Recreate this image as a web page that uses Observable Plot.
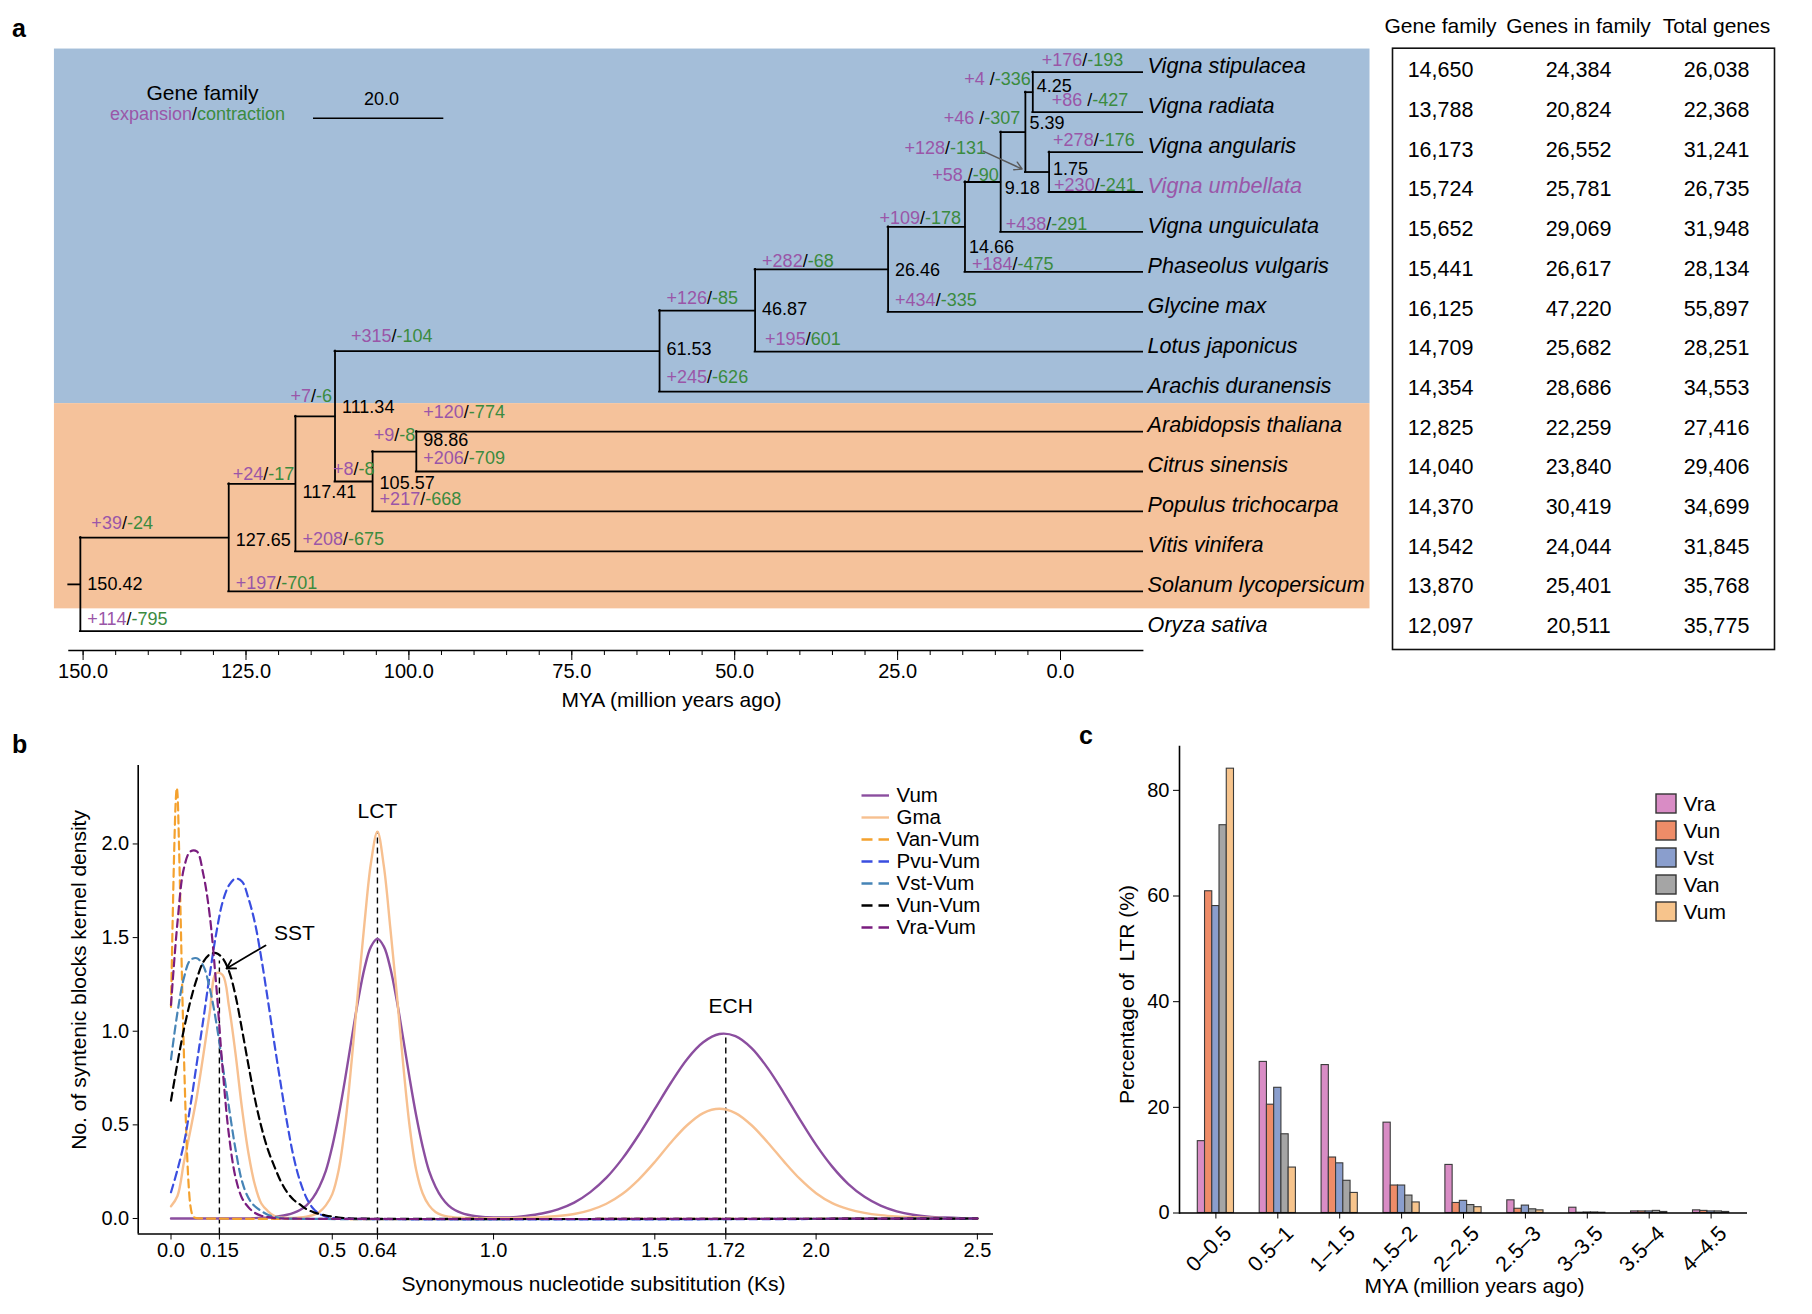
<!DOCTYPE html>
<html><head><meta charset="utf-8">
<script src="https://cdn.jsdelivr.net/npm/d3@7"></script>
<script src="https://cdn.jsdelivr.net/npm/@observablehq/plot@0.6"></script>
<style>
body{margin:0;background:#fff;}
#fig{position:relative;width:1812px;height:1314px;overflow:hidden;font-family:"Liberation Sans",Arial,sans-serif;color:#000;}
.plab{position:absolute;font-weight:bold;font-size:25px;line-height:25px;}
</style></head>
<body><div id="fig"></div>
<script>
// ================= DATA =================
// Panel a: species (top to bottom)
const tips = ["Vigna stipulacea","Vigna radiata","Vigna angularis","Vigna umbellata","Vigna unguiculata","Phaseolus vulgaris","Glycine max","Lotus japonicus","Arachis duranensis","Arabidopsis thaliana","Citrus sinensis","Populus trichocarpa","Vitis vinifera","Solanum lycopersicum","Oryza sativa"];
// internal nodes (divergence time, MYA) and their children
const nodeAges = [150.42,127.65,117.41,111.34,105.57,98.86,61.53,46.87,26.46,14.66,9.18,5.39,4.25,1.75];
const nodeChildren = [
  [127.65,"Oryza sativa"],
  [117.41,"Solanum lycopersicum"],
  [111.34,"Vitis vinifera"],
  [61.53,105.57],
  [98.86,"Populus trichocarpa"],
  ["Arabidopsis thaliana","Citrus sinensis"],
  [46.87,"Arachis duranensis"],
  [26.46,"Lotus japonicus"],
  [14.66,"Glycine max"],
  [9.18,"Phaseolus vulgaris"],
  [5.39,"Vigna unguiculata"],
  [4.25,1.75],
  ["Vigna stipulacea","Vigna radiata"],
  ["Vigna angularis","Vigna umbellata"]
];
// gene family expansion / contraction per branch (branch named by its child)
const branchKeys = ["Vigna stipulacea","Vigna radiata",4.25,5.39,"Vigna angularis","Vigna umbellata",1.75,9.18,"Vigna unguiculata",14.66,"Phaseolus vulgaris",26.46,"Glycine max",46.87,"Lotus japonicus",61.53,"Arachis duranensis",111.34,"Arabidopsis thaliana",98.86,"Citrus sinensis",105.57,"Populus trichocarpa",117.41,"Vitis vinifera",127.65,"Solanum lycopersicum","Oryza sativa"];
const branchGain = ["+176","+86 ","+4 ","+46 ","+278","+230","+128","+58 ","+438","+109","+184","+282","+434","+126","+195","+315","+245","+7","+120","+9","+206","+8","+217","+24","+208","+39","+197","+114"];
const branchLoss = ["-193","-427","-336","-307","-176","-241","-131","-90","-291","-178","-475","-68","-335","-85","601","-104","-626","-6","-774","-8","-709","-8","-668","-17","-675","-24","-701","-795"];
const scaleBarMYA = 20;
const mainTicks = [150,125,100,75,50,25,0];
const minorTicks = [150,145,140,135,130,125,120,115,110,105,100,95,90,85,80,75,70,65,60,55,50,45,40,35,30,25,20,15,10,5,0];
// table
const tableColumns = ["Gene family","Genes in family","Total genes"];
const geneFamily = [14650,13788,16173,15724,15652,15441,16125,14709,14354,12825,14040,14370,14542,13870,12097];
const genesInFamily = [24384,20824,26552,25781,29069,26617,47220,25682,28686,22259,23840,30419,24044,25401,20511];
const totalGenes = [26038,22368,31241,26735,31948,28134,55897,28251,34553,27416,29406,34699,31845,35768,35775];

// Panel b: Ks kernel densities
const ksTicks = [0,0.15,0.5,0.64,1,1.5,1.72,2,2.5];
const ksTickLabels = ["0.0","0.15","0.5","0.64","1.0","1.5","1.72","2.0","2.5"];
const densTicks = [0,0.5,1,1.5,2];
const vumDensity = [0,0,0,0,0,0,0,0,0,0,0,0,0,0.002,0.004,0.006,0.01,0.013,0.02,0.03,0.045,0.07,0.11,0.17,0.254,0.385,0.551,0.747,0.959,1.164,1.337,1.452,1.493,1.452,1.337,1.164,0.959,0.747,0.551,0.385,0.254,0.17,0.11,0.07,0.045,0.03,0.02,0.013,0.01,0.007,0.006,
  0.006,0.0136,0.0265,0.049,0.085,0.141,0.218,0.321,0.446,0.585,0.725,0.851,0.941,0.985,0.974,0.91,0.803,0.67,0.528,0.393,0.277,0.184,0.116,0.069,0.0385,0.02,0.01,0.005,0.002,0.001];
const gmaDensity = [0.065,0.12,0.30,0.47,0.65,0.87,1.10,1.31,1.30,1.13,0.88,0.59,0.35,0.18,0.08,0.04,0.014,
  0.006,0.003,0.003,0.005,0.01,0.018,0.035,0.07,0.13,0.26,0.50,0.84,1.22,1.58,1.90,2.066,1.88,1.55,1.20,0.82,0.49,0.26,0.135,0.07,0.035,0.018,0.01,0.006,0.004,0.003,0.002,0.001,0.001,0.001,
  0.002,0.004,0.007,0.013,0.024,0.045,0.079,0.132,0.208,0.302,0.406,0.498,0.563,0.586,0.563,0.498,0.406,0.305,0.211,0.135,0.082,0.05,0.03,0.018,0.011,0.007,0.004,0.002,0.001,0];
const vanKs = [0,0.005,0.01,0.015,0.018,0.02,0.025,0.03,0.035,0.04,0.045,0.05,0.055,0.06,0.065,0.07,0.08,0.1,2.5];
const vanDensity = [1.13,1.58,1.97,2.24,2.30,2.27,1.98,1.60,1.21,0.88,0.58,0.34,0.17,0.07,0.025,0.008,0.002,0,0];
const pvuDensity = [0.14,0.26,0.40,0.60,0.83,1.06,1.30,1.52,1.69,1.78,1.815,1.80,1.71,1.58,1.39,1.17,0.94,0.72,0.51,0.33,0.20,0.11,0.055,0.025,0.01,0.004,0];
const vstDensity = [0.85,1.10,1.285,1.38,1.39,1.35,1.23,1.05,0.82,0.59,0.37,0.20,0.11,0.065,0.04,0.02,0.01,0.003,0];
const vunDensity = [0.63,0.83,1.01,1.16,1.28,1.37,1.41,1.417,1.39,1.32,1.19,1.01,0.82,0.64,0.49,0.37,0.28,0.20,0.14,0.10,0.075,0.05,0.035,0.024,0.016,0.01,0.005,0.002,0];
const vraDensity = [1.14,1.58,1.87,1.96,1.96,1.84,1.62,1.25,0.80,0.44,0.22,0.11,0.06,0.03,0.015,0.007,0.002,0];
const peakKs = [0.15,0.64,1.72];
const peakTop = [1.375,2.066,0.988];
const peakNames = ["SST","LCT","ECH"];

// Panel c: LTR insertion time
const ltrBins = ["0–0.5","0.5–1","1–1.5","1.5–2","2–2.5","2.5–3","3–3.5","3.5–4","4–4.5"];
const ltrSeries = ["Vra","Vun","Vst","Van","Vum"];
const ltrVra = [13.6,28.6,28.0,17.1,9.1,2.4,1.0,0.3,0.5];
const ltrVun = [60.9,20.5,10.5,5.2,1.9,0.8,0.05,0.3,0.4];
const ltrVst = [58.1,23.7,9.4,5.2,2.3,1.4,0.1,0.3,0.3];
const ltrVan = [73.4,14.9,6.1,3.3,1.5,0.7,0.1,0.4,0.3];
const ltrVum = [84.1,8.6,3.8,2.0,1.1,0.5,0.05,0.2,0.2];
const ltrTicks = [0,20,40,60,80];

// ================= STYLE / LAYOUT =================
const FONT = '"Liberation Sans", Arial, sans-serif';
const PURPLE = "#9a56a8", GREEN = "#3b8b3f";
const BLUE_BG = "#a4bed9", ORANGE_BG = "#f5c29b";
const fig = document.getElementById("fig");
const ctx = document.createElement("canvas").getContext("2d");
function textWidth(s, size){ ctx.font = `${size}px "Liberation Sans"`; return ctx.measureText(s).width; }
function place(node, left, top){
  const d = document.createElement("div");
  d.style.position = "absolute"; d.style.left = left + "px"; d.style.top = top + "px";
  node.style.maxWidth = "none"; node.style.overflow = "visible";
  d.appendChild(node); fig.appendChild(d);
}
function label(txt, left, top){
  const d = document.createElement("div"); d.className = "plab"; d.textContent = txt;
  d.style.left = left + "px"; d.style.top = top + "px"; fig.appendChild(d);
}
function ann(dims, str, px, py, o = {}){
  return Plot.text([str], {text: d => d, frameAnchor: "top-left", dx: px - dims.ML, dy: py - dims.MT,
    textAnchor: "middle", lineAnchor: "middle", fontSize: 21, ...o});
}
const baseStyle = {fontFamily: FONT, fontSize: "18px", background: "transparent", color: "#000", overflow: "visible"};

// ================= PANEL a: tree =================
const A = {W: 1390, H: 720, ML: 82.6, MR: 330, MT: 71.7, MB: 70};
const ROW_MAX = 14.483;
const TIP_END = -12.6, AXIS_EXT = [152.2, -12.8], BG_EXT = [154.4, -47.5];
const xA = d3.scaleLinear([150, 0], [A.ML, A.W - A.MR]);
const yA = d3.scaleLinear([0, ROW_MAX], [A.MT, A.H - A.MB]);

const parentOf = new Map();
nodeAges.forEach((a, i) => nodeChildren[i].forEach(c => parentOf.set(c, a)));
const rootAge = nodeAges.find(a => !parentOf.has(a));
const nodeIdx = new Map(nodeAges.map((a, i) => [a, i]));
function rowOf(k){
  if (typeof k === "string") return tips.indexOf(k);
  const r = nodeChildren[nodeIdx.get(k)].map(rowOf);
  return (Math.min(...r) + Math.max(...r)) / 2;
}
const ageOf = k => typeof k === "string" ? TIP_END : k;
const hSegs = [...parentOf].map(([c, p]) => ({t1: p, t2: ageOf(c), row: rowOf(c)}));
hSegs.push({t1: AXIS_EXT[0], t2: rootAge, row: rowOf(rootAge)});
const vSegs = nodeAges.map((a, i) => { const r = nodeChildren[i].map(rowOf); return {t: a, r1: Math.min(...r), r2: Math.max(...r)}; });

const bands = [
  {color: BLUE_BG, r1: tips.indexOf("Vigna stipulacea") - 0.58, r2: tips.indexOf("Arachis duranensis") + 0.3},
  {color: ORANGE_BG, r1: tips.indexOf("Arachis duranensis") + 0.3, r2: tips.indexOf("Solanum lycopersicum") + 0.44}
];

// expansion/contraction labels (placement style)
const LBL = 18;
const labelPlace = {
  "Vigna stipulacea": {off: 9}, "Vigna radiata": {off: 19},
  "4.25": {anchor: "end", off: -2, dy: -13}, "5.39": {anchor: "end", off: -5, dy: -14},
  "1.75": {anchor: "end", off: -63, dy: -24, arrow: true},
  "9.18": {anchor: "end", off: -2, dy: -7}, "14.66": {anchor: "end", off: -4, dy: -9},
  "111.34": {anchor: "end", off: -3, dy: -20}, "98.86": {anchor: "end", off: -1, dy: -16},
  "105.57": {anchor: "end", off: 2, dy: -12},
  "Vigna angularis": {off: 4}, "Vigna umbellata": {off: 5, dy: -7}, "Vigna unguiculata": {off: 5, dy: -8},
  "Phaseolus vulgaris": {dy: -8}, "26.46": {dy: -8},
  "Glycine max": {off: 7}, "Lotus japonicus": {off: 10}, "61.53": {off: 16, dy: -15},
  "Arachis duranensis": {dy: -14}, "Arabidopsis thaliana": {dy: -19}, "Citrus sinensis": {dy: -13},
  "127.65": {off: 11, dy: -14}, "117.41": {off: 4, dy: -10}, "Solanum lycopersicum": {dy: -8}
};
const glParts = [], glArrows = [];
branchKeys.forEach((k, j) => {
  const p = Object.assign({anchor: "start", off: 7, dy: -12}, labelPlace[String(k)]);
  const pX = xA(parentOf.get(k)), cX = xA(ageOf(k)), yPx = yA(rowOf(k)) + p.dy;
  const parts = [[branchGain[j], PURPLE], ["/", "#000"], [branchLoss[j], GREEN]];
  const w = parts.map(([s]) => textWidth(s, LBL));
  const total = d3.sum(w);
  let s = p.anchor === "start" ? pX + p.off : cX + p.off - total;
  const endPx = s + total;
  parts.forEach(([txt, col], m) => { glParts.push({t: xA.invert(s), row: yA.invert(yPx), text: txt, color: col}); s += w[m]; });
  if (p.arrow) glArrows.push({t1: xA.invert(endPx - 3), r1: yA.invert(yPx + 3), t2: xA.invert(xA(k) - 27), r2: yA.invert(yA(rowOf(k)) - 3)});
});

// node age labels (vertical nudges in px)
const nodeDy = {"127.65": 3, "117.41": 8, "111.34": -9, "105.57": 2, "98.86": -11, "61.53": -2, "46.87": -1, "26.46": 1, "14.66": 20, "9.18": 6, "5.39": -9, "4.25": -6, "1.75": -3};
const nodeLabels = nodeAges.map(a => ({
  t: xA.invert(xA(a) + (a < 15 ? 4 : 7)),
  row: yA.invert(yA(rowOf(a)) + (nodeDy[a.toFixed(2)] || 0)),
  text: a.toFixed(2)
}));

// legend "expansion/contraction"
const legParts = [["expansion", PURPLE], ["/", "#000"], ["contraction", GREEN]];
const legW = legParts.map(([s]) => textWidth(s, LBL));
let legX = 197 - d3.sum(legW) / 2;
const legMarks = legParts.map(([s, c], m) => { const mk = ann(A, s, legX, 114, {textAnchor: "start", fill: c, fontSize: LBL}); legX += legW[m]; return mk; });
const barStart = xA.invert(313);

const treePlot = Plot.plot({
  width: A.W, height: A.H, marginLeft: A.ML, marginRight: A.MR, marginTop: A.MT, marginBottom: A.MB,
  x: {domain: [150, 0]}, y: {domain: [0, ROW_MAX], reverse: true, axis: null},
  style: baseStyle,
  marks: [
    Plot.rect(bands, {x1: () => BG_EXT[0], x2: () => BG_EXT[1], y1: "r1", y2: "r2", fill: "color"}),
    Plot.ruleY(hSegs, {y: "row", x1: "t1", x2: "t2", stroke: "#000", strokeWidth: 1.8, strokeLinecap: "square"}),
    Plot.ruleX(vSegs, {x: "t", y1: "r1", y2: "r2", stroke: "#000", strokeWidth: 1.8, strokeLinecap: "square"}),
    ...[PURPLE, "#000", GREEN].map(col => Plot.text(glParts.filter(d => d.color === col), {x: "t", y: "row", text: "text", fill: col, textAnchor: "start", fontSize: LBL})),
    Plot.arrow(glArrows, {x1: "t1", y1: "r1", x2: "t2", y2: "r2", stroke: "#5a5a5a", strokeWidth: 1.4, headLength: 9}),
    Plot.text(nodeLabels, {x: "t", y: "row", text: "text", textAnchor: "start", fontSize: LBL, fill: "#000"}),
    Plot.text(tips, {filter: d => d !== "Vigna umbellata", x: () => TIP_END, y: (d, i) => i, text: d => d, dx: 5, dy: -6, textAnchor: "start", fontStyle: "italic", fontSize: 21.6, fill: "#000"}),
    Plot.text(tips, {filter: d => d === "Vigna umbellata", x: () => TIP_END, y: d => tips.indexOf(d), text: d => d, dx: 5, dy: -6, textAnchor: "start", fontStyle: "italic", fontSize: 21.6, fill: PURPLE}),
    // scale bar legend
    Plot.ruleY([scaleBarMYA], {y: () => yA.invert(117.7), x1: () => barStart, x2: d => barStart - d, stroke: "#000", strokeWidth: 1.6}),
    ann(A, scaleBarMYA.toFixed(1), 381, 99, {fontSize: LBL}),
    ann(A, "Gene family", 202, 93, {fontSize: 21}),
    ...legMarks,
    // axis
    Plot.ruleY([ROW_MAX], {x1: () => AXIS_EXT[0], x2: () => AXIS_EXT[1], stroke: "#000", strokeWidth: 1.6}),
    Plot.axisX({ticks: minorTicks, tickSize: 5, tickFormat: () => "", label: null}),
    Plot.axisX({ticks: mainTicks, tickSize: 10, tickPadding: 3, tickFormat: d => d.toFixed(1), fontSize: 20, label: null}),
    ann(A, "MYA (million years ago)", 671, 700, {fontSize: 21})
  ]
});
place(treePlot, 0, 0);

// ================= PANEL a: table =================
const TB = {W: 432, H: 720, ML: 16, MR: 34, MT: 47.7, MB: 71};
const fmt = d3.format(",");
const tableCells = [];
tips.forEach((t, i) => {
  tableCells.push({col: tableColumns[0], row: i, label: fmt(geneFamily[i])});
  tableCells.push({col: tableColumns[1], row: i, label: fmt(genesInFamily[i])});
  tableCells.push({col: tableColumns[2], row: i, label: fmt(totalGenes[i])});
});
const tablePlot = Plot.plot({
  width: TB.W, height: TB.H, marginLeft: TB.ML, marginRight: TB.MR, marginTop: TB.MT, marginBottom: TB.MB,
  x: {type: "point", domain: tableColumns, range: [64, 340.5], padding: 0, axis: null},
  y: {domain: [0, 14], range: [70, 625.8], axis: null},
  style: baseStyle,
  marks: [
    Plot.frame({stroke: "#111", strokeWidth: 1.6}),
    Plot.text(tableCells, {x: "col", y: "row", text: "label", fontSize: 21.5}),
    Plot.text(tableColumns, {x: d => d, frameAnchor: "top", dy: 26 - TB.MT, lineAnchor: "middle", textAnchor: "middle", fontSize: 21})
  ]
});
place(tablePlot, 1376, 0);
label("a", 12, 16);

// ================= PANEL b: Ks densities =================
const B = {W: 1030, H: 574, ML: 137.7, MR: 37, MT: 25, MB: 80.5};
const KS_MIN = -0.1017, D_MIN = -0.0828;
const gridLong = [...d3.range(0, 51).map(i => +(i * 0.02).toFixed(2)), ...d3.range(1, 31).map(i => +(1 + i * 0.05).toFixed(2))];
const gridShort = vals => [...vals.slice(0, -1).map((v, i) => +(i * 0.02).toFixed(2)), 2.5];
const withTail = vals => [...vals, 0];
const densSeries = [
  {name: "Vum", ks: gridLong, d: vumDensity, stroke: "#8b4e9f", dash: null, w: 2.4},
  {name: "Gma", ks: gridLong, d: gmaDensity, stroke: "#f7c090", dash: null, w: 2.4},
  {name: "Van-Vum", ks: vanKs, d: vanDensity, stroke: "#f4a12e", dash: "8,5", w: 2.2},
  {name: "Pvu-Vum", ks: gridShort(withTail(pvuDensity)), d: withTail(pvuDensity), stroke: "#3a4ee0", dash: "8,5", w: 2.2},
  {name: "Vst-Vum", ks: gridShort(withTail(vstDensity)), d: withTail(vstDensity), stroke: "#4684b6", dash: "8,5", w: 2.2},
  {name: "Vun-Vum", ks: gridShort(withTail(vunDensity)), d: withTail(vunDensity), stroke: "#000000", dash: "8,5", w: 2.2},
  {name: "Vra-Vum", ks: gridShort(withTail(vraDensity)), d: withTail(vraDensity), stroke: "#7a1d7f", dash: "8,5", w: 2.2}
];
const peaks = peakKs.map((k, i) => ({ks: k, top: peakTop[i], name: peakNames[i]}));
const densPlot = Plot.plot({
  width: B.W, height: B.H, marginLeft: B.ML, marginRight: B.MR, marginTop: B.MT, marginBottom: B.MB,
  x: {domain: [KS_MIN, 2.55]}, y: {domain: [D_MIN, 2.419]},
  style: baseStyle,
  marks: [
    Plot.ruleX([KS_MIN], {stroke: "#000", strokeWidth: 1.6}),
    Plot.ruleY([D_MIN], {stroke: "#000", strokeWidth: 1.6}),
    Plot.axisY({ticks: densTicks, tickFormat: d => d.toFixed(1), tickSize: 5, tickPadding: 4, fontSize: 20, label: null}),
    Plot.axisX({ticks: ksTicks, tickFormat: d => ksTickLabels[ksTicks.indexOf(d)], tickSize: 6, tickPadding: 3, fontSize: 20, label: null}),
    Plot.ruleX(peaks, {x: "ks", y1: () => D_MIN, y2: "top", stroke: "#000", strokeWidth: 1.4, strokeDasharray: "6,4"}),
    ...densSeries.map(s => Plot.line(s.ks.map((k, i) => ({ks: k, d: s.d[i]})), {x: "ks", y: "d", stroke: s.stroke, strokeWidth: s.w, strokeDasharray: s.dash, curve: "catmull-rom"})),
    Plot.text(peaks.filter(p => p.name === "LCT"), {x: "ks", y: "top", text: "name", dy: -20, fontSize: 21}),
    Plot.text(peaks.filter(p => p.name === "ECH"), {x: "ks", y: "top", text: "name", dx: 5, dy: -27, fontSize: 21}),
    Plot.text(peaks.filter(p => p.name === "SST"), {x: "ks", y: "top", text: "name", dx: 75, dy: -28, fontSize: 21}),
    Plot.arrow(peaks.filter(p => p.name === "SST"), {x1: d => d.ks + 0.143, y1: d => d.top + 0.083, x2: d => d.ks + 0.022, y2: d => d.top - 0.04, stroke: "#000", strokeWidth: 1.8, headLength: 8}),
    ann(B, "Synonymous nucleotide subsititution (Ks)", 593, 544, {fontSize: 21}),
    ann(B, "No. of syntenic blocks kernel density", 79, 239.4, {fontSize: 21, rotate: -90})
  ]
});
place(densPlot, 0, 740);

// legend b
const legB = Plot.plot({
  width: 180, height: 165, margin: 0,
  x: {domain: [0, 1], range: [9.5, 37], axis: null},
  y: {type: "point", domain: densSeries.map(s => s.name), range: [12.4, 146], padding: 0, axis: null},
  style: baseStyle,
  marks: [
    ...densSeries.map(s => Plot.ruleY([s.name], {y: d => d, x1: () => 0, x2: () => 1, stroke: s.stroke, strokeWidth: 2.4, strokeDasharray: s.dash ? "11,6" : null})),
    Plot.text(densSeries.map(s => s.name), {x: () => 1, y: d => d, dx: 7, textAnchor: "start", fontSize: 20.5})
  ]
});
place(legB, 852, 782);
label("b", 12, 732);

// ================= PANEL c: LTR bars =================
const C = {W: 732, H: 594, ML: 99, MR: 65, MT: 26, MB: 101.5};
const PI = 0.415, PO = 0.2955;
const ltrValues = {Vra: ltrVra, Vun: ltrVun, Vst: ltrVst, Van: ltrVan, Vum: ltrVum};
const ltrColors = {Vra: "#d98cc5", Vun: "#ee8c68", Vst: "#8a9ecd", Van: "#a5a5a5", Vum: "#f7c48c"};
const bandW = (C.W - C.ML - C.MR) / (ltrBins.length - PI + 2 * PO) * (1 - PI);
const subW = bandW / ltrSeries.length;
const ltrPlot = Plot.plot({
  width: C.W, height: C.H, marginLeft: C.ML, marginRight: C.MR, marginTop: C.MT, marginBottom: C.MB,
  x: {type: "band", domain: ltrBins, paddingInner: PI, paddingOuter: PO, round: false},
  y: {domain: [0, 88.3]},
  style: baseStyle,
  marks: [
    ...ltrSeries.map((s, i) => Plot.barY(ltrBins.map((b, j) => ({bin: b, v: ltrValues[s][j]})), {
      x: "bin", y: "v", fill: ltrColors[s], stroke: "#3a3a3a", strokeWidth: 1.1,
      insetLeft: i * subW, insetRight: (ltrSeries.length - 1 - i) * subW})),
    Plot.frame({anchor: "left", stroke: "#000", strokeWidth: 1.6}),
    Plot.ruleY([0], {stroke: "#000", strokeWidth: 1.6}),
    Plot.axisY({ticks: ltrTicks, tickSize: 6, tickPadding: 4, fontSize: 20, label: null}),
    Plot.axisX({tickSize: 6, tickFormat: () => "", label: null}),
    Plot.text(ltrBins, {x: d => d, y: () => 0, text: d => d, rotate: -45, textAnchor: "end", lineAnchor: "middle", dx: 12, dy: 17, fontSize: 21.5}),
    ann(C, "MYA (million years ago)", 394, 566, {fontSize: 21}),
    ann(C, "Percentage of\u00a0 LTR (%)", 47, 274, {fontSize: 21, rotate: -90})
  ]
});
place(ltrPlot, 1080, 720);

// legend c
const legC = Plot.plot({
  width: 140, height: 150, margin: 0,
  x: {domain: [0, 1], range: [6, 26], axis: null},
  y: {type: "band", domain: ltrSeries, range: [7.8, 136.9], paddingInner: 0.283, paddingOuter: 0, axis: null},
  style: baseStyle,
  marks: [
    ...ltrSeries.map(s => Plot.barX([s], {y: d => d, x1: () => 0, x2: () => 1, fill: ltrColors[s], stroke: "#333", strokeWidth: 1.4})),
    Plot.text(ltrSeries, {x: () => 1, y: d => d, dx: 7, textAnchor: "start", fontSize: 21})
  ]
});
place(legC, 1650, 785);
label("c", 1079, 723);
</script></body></html>
